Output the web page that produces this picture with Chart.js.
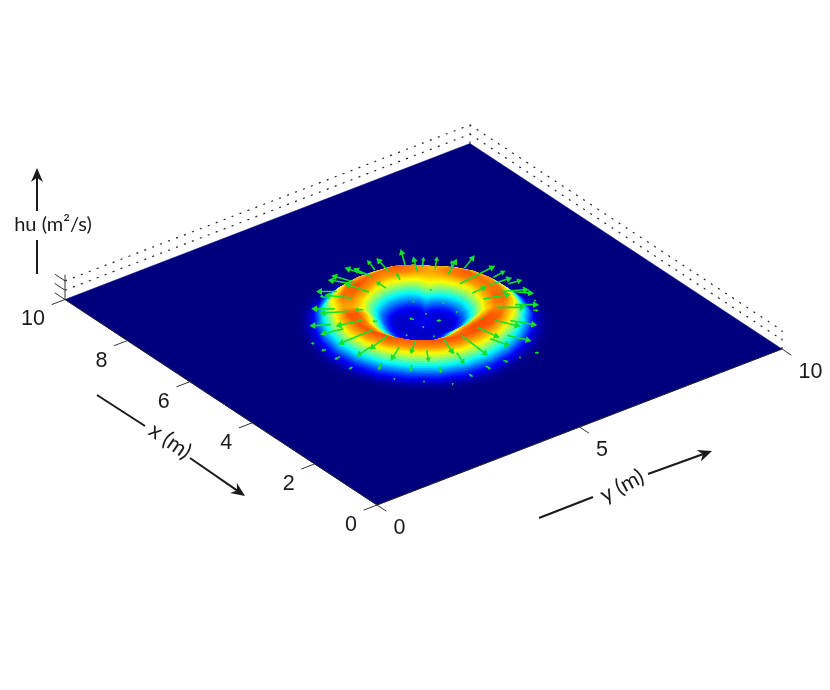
<!DOCTYPE html>
<html>
<head>
<meta charset="utf-8">
<title>hu surface</title>
<script src="https://cdn.jsdelivr.net/npm/chart.js@4"></script>
<style>
  body { margin: 0; background: #fff; }
  canvas { display: block; }
</style>
</head>
<body>
<canvas id="myChart" width="830" height="690"></canvas>
<script>
// axis ticks
const xTicks = [0, 2, 4, 6, 8, 10];
const yTicks = [0, 5, 10];
const zLevels = [0, 0.3, 0.6];

// polar grid around the plate centre, hu in m2/s
const ringAngles = [0, 15, 30, 45, 60, 75, 90, 105, 120, 135, 150, 165, 180, 195, 210, 225, 240, 255, 270, 285, 300, 315, 330, 345];
const ringRadii = [0, 0.2, 0.4, 0.6, 0.8, 1, 1.2, 1.4, 1.6, 1.8, 2, 2.2, 2.4, 2.6];
const huRows = [
  [.11, .09, .08, .15, .34, .56, .72, .77, .62, .36, .12, .02, 0, 0],
  [.11, .09, .09, .19, .38, .60, .75, .79, .62, .34, .10, .02, 0, 0],
  [.11, .09, .12, .26, .46, .64, .74, .74, .58, .32, .10, .01, 0, 0],
  [.11, .10, .20, .38, .60, .68, .71, .70, .54, .30, .09, .01, 0, 0],
  [.11, .09, .13, .27, .48, .65, .75, .75, .60, .34, .11, .02, 0, 0],
  [.11, .09, .09, .20, .40, .61, .76, .79, .66, .38, .13, .02, 0, 0],
  [.11, .09, .08, .15, .34, .55, .72, .77, .72, .48, .18, .03, 0, 0],
  [.11, .09, .08, .12, .30, .51, .70, .76, .75, .58, .28, .06, .01, 0],
  [.11, .09, .07, .10, .26, .47, .68, .78, .78, .62, .33, .08, .01, 0],
  [.11, .09, .07, .08, .22, .43, .63, .73, .74, .62, .33, .08, .01, 0],
  [.11, .09, .07, .08, .22, .46, .68, .78, .78, .64, .35, .09, .01, 0],
  [.11, .09, .07, .08, .20, .44, .70, .80, .79, .66, .38, .11, .01, 0],
  [.11, .10, .07, .08, .24, .46, .68, .79, .79, .68, .44, .16, .03, 0],
  [.11, .10, .07, .08, .14, .30, .52, .72, .80, .72, .50, .21, .04, 0],
  [.11, .10, .07, .07, .10, .22, .38, .62, .80, .74, .52, .23, .04, 0],
  [.11, .10, .07, .07, .10, .20, .32, .60, .78, .73, .50, .22, .04, 0],
  [.11, .10, .07, .07, .10, .22, .36, .62, .80, .74, .50, .22, .04, 0],
  [.11, .10, .07, .08, .12, .26, .44, .68, .80, .72, .47, .18, .03, 0],
  [.11, .10, .07, .08, .16, .34, .56, .74, .79, .68, .42, .14, .02, 0],
  [.11, .09, .07, .08, .20, .43, .68, .79, .79, .65, .37, .10, .01, 0],
  [.11, .09, .07, .08, .22, .44, .62, .70, .71, .60, .33, .08, .01, 0],
  [.11, .09, .07, .09, .24, .46, .67, .77, .77, .62, .32, .07, .01, 0],
  [.11, .09, .07, .10, .27, .50, .72, .80, .76, .58, .28, .06, .01, 0],
  [.11, .09, .08, .13, .30, .53, .72, .78, .70, .46, .18, .03, 0, 0],
];

// velocity arrows: tail position and vector, metres
const quiverX = [7.038, 6.665, 6.782, 6.582, 6.242, 6.385, 6.236, 5.809, 5.618, 5.423, 5.237, 5.378, 5.102, 4.944, 5.065, 4.653, 4.518, 4.266, 4.089, 4.272, 3.766, 3.663, 4.221, 4.29, 3.733, 4.169, 4.582, 4.584, 5.069, 4.931, 5.43, 5.805, 5.852, 6.087, 6.285, 6.513, 6.644, 7.033, 6.968, 6.63, 7.101, 7.129, 7.076, 7.256, 7.24, 7.052, 6.64, 6.551, 4.315, 3.889, 3.493, 5.38, 4.99, 4.529, 2.948, 2.983, 2.926, 4.956, 5.255, 4.94, 5.316, 4.883, 4.53, 5.637, 6.158, 5.004, 4.498, 5.701, 3.687, 3.255, 2.845, 2.807, 2.863, 4.434, 4.128, 5.993, 5.436, 5.841];
const quiverY = [6.114, 6.14, 6.345, 6.504, 6.571, 6.764, 6.961, 6.526, 7.202, 6.97, 7.279, 6.499, 6.969, 7.177, 6.529, 6.541, 6.89, 6.202, 6.436, 5.77, 5.693, 6.042, 5.327, 4.96, 4.845, 4.44, 4.469, 4.084, 4.145, 3.626, 4.093, 3.642, 4.131, 3.546, 4.135, 3.982, 4.51, 4.423, 4.126, 4.911, 4.928, 4.826, 5.32, 5.253, 5.529, 5.714, 5.684, 5.27, 3.44, 3.853, 4.248, 2.885, 2.932, 2.881, 5.392, 4.983, 4.528, 5.292, 4.962, 4.951, 5.306, 4.495, 4.898, 4.352, 4.407, 5.824, 6.067, 2.844, 3.27, 3.669, 4.061, 6.066, 5.738, 7.319, 7.043, 5.943, 5.827, 5.399];
const quiverU = [.416, .419, .212, .255, .287, .183, .21, .124, .043, -.034, -.034, .023, -.245, -.248, -.144, -.296, -.236, -.409, -.398, -.496, -.37, -.382, -.843, -.447, -.346, -.305, -.266, -.246, -.167, -.098, -.033, .087, .111, .174, .245, .246, .365, .197, .09, .468, .409, .298, .38, .33, .305, .415, .185, .244, -.145, -.141, -.15, .009, -.014, -.023, -.08, -.114, -.083, -.039, .07, -.03, -.03, -.03, -.03, .04, .08, -.03, -.03, .03, -.03, -.03, -.03, -.03, -.03, -.03, -.05, -.03, -.03, -.03];
const quiverV = [.238, .233, .188, .237, .386, .141, .36, .878, .263, .427, .236, .289, .429, .221, .466, .39, .312, .221, .27, .08, .127, .207, -.057, -.154, -.117, -.193, -.287, -.355, -.481, -.338, -.807, -.411, -.465, -.293, -.429, -.304, -.311, -.26, -.055, -.15, -.179, -.223, -.077, -.117, .086, .089, .075, -.003, -.169, -.133, -.1, -.075, -.109, -.075, .021, .002, .003, .052, -.029, -.024, -.024, -.024, -.024, -.052, -.1, -.024, -.024, -.03, -.024, -.024, -.024, .04, -.024, -.024, .05, -.024, -.024, -.024];

// view of the plate: where x=y=0 lands and what one metre / one hu does on the chart scales
const origin = [377, 505];
const perX = [-31.2, -20.55];
const perY = [40.5, -15.6];
const perHu = 31;

function px(x, y) { return origin[0] + perX[0] * x + perY[0] * y; }
function py(x, y, hu) { return origin[1] + perX[1] * x + perY[1] * y - perHu * (hu || 0); }
function pt(x, y, hu) { return { x: px(x, y), y: py(x, y, hu) }; }

// breaks a line dataset into separate segments
const gap = { x: null, y: null };

function jet(v) {
  const c = (t) => Math.round(255 * Math.max(0, Math.min(1, t)));
  return "rgb(" + c(1.5 - Math.abs(4 * v - 3)) + "," + c(1.5 - Math.abs(4 * v - 2)) + "," + c(1.5 - Math.abs(4 * v - 1)) + ")";
}

// surface vertices, one per table entry
const surfacePoints = [];
ringAngles.forEach((a, i) => {
  const t = (a * Math.PI) / 180;
  ringRadii.forEach((r, j) => {
    const p = pt(5 + r * Math.cos(t), 5 + r * Math.sin(t), huRows[i][j]);
    p.hu = huRows[i][j];
    surfacePoints.push(p);
  });
});

const plateEdge = [pt(0, 0), pt(10, 0), pt(10, 10), pt(0, 10), pt(0, 0)];
const frontEdge = [pt(10, 0), pt(0, 0), pt(0, 10)];

// dotted box behind the plate
const boxDots = [];
zLevels.slice(1).forEach((z) => {
  boxDots.push(pt(10, 0, z), pt(10, 10, z), pt(0, 10, z), gap);
});
boxDots.push(pt(10, 10, 0), pt(10, 10, zLevels[2]), gap);
boxDots.push(pt(0, 10, 0), pt(0, 10, zLevels[2]), gap);

// tick marks
const tickSegs = [];
xTicks.forEach((v) => tickSegs.push(pt(v, 0), pt(v, -0.33), gap));
yTicks.forEach((v) => tickSegs.push(pt(0, v), pt(-0.3, v), gap));
zLevels.forEach((z) => tickSegs.push(pt(10, 0, z), pt(10.33, 0, z), gap));
tickSegs.push(pt(10, 0, 0), pt(10, 0, zLevels[2] + 0.2), gap);

// green arrows
const quiverSegs = [];
const quiverHeads = [];
const quiverRot = [];
const quiverSize = [];
quiverX.forEach((x, i) => {
  const tail = pt(x, quiverY[i]);
  const head = pt(x + quiverU[i], quiverY[i] + quiverV[i]);
  quiverSegs.push(tail, head, gap);
  quiverHeads.push(head);
  const dx = head.x - tail.x;
  const dy = head.y - tail.y;
  quiverRot.push((Math.atan2(dy, dx) * 180) / Math.PI + 90);
  quiverSize.push(Math.min(4, 1 + Math.hypot(dx, dy) * 0.22));
});

const surfaceMesh = {
  id: "surfaceMesh",
  afterDatasetDraw(chart, args) {
    if (chart.data.datasets[args.index].label !== "hu") return;
    const els = args.meta.data;
    const nr = ringRadii.length;
    const na = ringAngles.length;
    const subA = 6;
    const subR = 8;
    const cells = [];
    const at = (i, j) => {
      const e = els[((i + na) % na) * nr + j];
      const hu = surfacePoints[((i + na) % na) * nr + j].hu;
      return { x: e.x, y: e.y, hu: hu, d: e.y + perHu * hu };
    };
    const mix = (p, q, r, s, u, v, k) =>
      (1 - u) * (1 - v) * p[k] + u * (1 - v) * q[k] + u * v * r[k] + (1 - u) * v * s[k];
    for (let i = 0; i < na; i++) {
      for (let j = 0; j < nr - 1; j++) {
        const p = at(i, j), q = at(i + 1, j), r = at(i + 1, j + 1), s = at(i, j + 1);
        for (let a = 0; a < subA; a++) {
          for (let b = 0; b < subR; b++) {
            const u0 = a / subA, u1 = (a + 1) / subA, v0 = b / subR, v1 = (b + 1) / subR;
            const um = (u0 + u1) / 2, vm = (v0 + v1) / 2;
            cells.push({
              d: mix(p, q, r, s, um, vm, "d"),
              hu: mix(p, q, r, s, um, vm, "hu"),
              c: [[u0, v0], [u1, v0], [u1, v1], [u0, v1]].map((w) => [
                mix(p, q, r, s, w[0], w[1], "x"),
                mix(p, q, r, s, w[0], w[1], "y"),
              ]),
            });
          }
        }
      }
    }
    // back of the plate first so the front of the ring hides the hole
    cells.sort((m, n) => m.d - n.d);
    const ctx = chart.ctx;
    ctx.save();
    ctx.lineWidth = 0.8;
    cells.forEach((cell) => {
      const col = jet(cell.hu);
      ctx.fillStyle = col;
      ctx.strokeStyle = col;
      ctx.beginPath();
      cell.c.forEach((k, n) => (n ? ctx.lineTo(k[0], k[1]) : ctx.moveTo(k[0], k[1])));
      ctx.closePath();
      ctx.fill();
      ctx.stroke();
    });
    ctx.restore();
  },
};

function blackArrow(ctx, x1, y1, x2, y2) {
  const t = Math.atan2(y2 - y1, x2 - x1);
  const L = 14;
  const W = 6;
  ctx.beginPath();
  ctx.moveTo(x1, y1);
  ctx.lineTo(x2 - L * 0.7 * Math.cos(t), y2 - L * 0.7 * Math.sin(t));
  ctx.stroke();
  ctx.beginPath();
  ctx.moveTo(x2, y2);
  ctx.lineTo(x2 - L * Math.cos(t) - W * Math.sin(t), y2 - L * Math.sin(t) + W * Math.cos(t));
  ctx.lineTo(x2 - L * 0.7 * Math.cos(t), y2 - L * 0.7 * Math.sin(t));
  ctx.lineTo(x2 - L * Math.cos(t) + W * Math.sin(t), y2 - L * Math.sin(t) - W * Math.cos(t));
  ctx.closePath();
  ctx.fill();
}

function rotatedText(ctx, s, x, y, deg) {
  ctx.save();
  ctx.translate(x, y);
  ctx.rotate((deg * Math.PI) / 180);
  ctx.fillText(s, 0, 0);
  ctx.restore();
}

const axisText = {
  id: "axisText",
  afterDraw(chart) {
    const ctx = chart.ctx;
    const sx = chart.scales.x;
    const sy = chart.scales.y;
    ctx.save();
    ctx.fillStyle = "#1a1a1a";
    ctx.textBaseline = "middle";
    ctx.font = '21.5px "Liberation Sans"';
    ctx.textAlign = "right";
    xTicks.forEach((v) => {
      ctx.fillText(String(v), sx.getPixelForValue(px(v, 0)) - 20, sy.getPixelForValue(py(v, 0)) + 20);
    });
    ctx.textAlign = "left";
    yTicks.forEach((v) => {
      ctx.fillText(String(v), sx.getPixelForValue(px(0, v)) + 16.5, sy.getPixelForValue(py(0, v)) + 23);
    });

    ctx.textAlign = "center";
    ctx.font = '20px Lato';
    ctx.fillText("hu (m²/s)", 53, 225);
    ctx.font = '22px Lato';
    rotatedText(ctx, "x (m)", 170, 441, 35);
    rotatedText(ctx, "y (m)", 622, 486, -28);

    ctx.strokeStyle = "#1a1a1a";
    ctx.fillStyle = "#1a1a1a";
    ctx.lineWidth = 2;
    blackArrow(ctx, 37, 211, 37, 168);
    ctx.beginPath();
    ctx.moveTo(37, 240);
    ctx.lineTo(37, 274);
    ctx.moveTo(97, 395);
    ctx.lineTo(145, 426);
    ctx.moveTo(539, 518);
    ctx.lineTo(593, 497);
    ctx.stroke();
    blackArrow(ctx, 190, 458, 245, 496);
    blackArrow(ctx, 648, 474, 712, 451);
    ctx.restore();
  },
};

const ctx = document.getElementById("myChart");

new Chart(ctx, {
  type: "scatter",
  data: {
    datasets: [
      {
        type: "scatter",
        label: "arrow heads",
        data: quiverHeads,
        pointStyle: "triangle",
        pointRadius: quiverSize,
        pointRotation: quiverRot,
        pointBackgroundColor: "#14e02c",
        pointBorderWidth: 0,
        order: 1,
      },
      {
        type: "line",
        label: "arrows",
        data: quiverSegs,
        borderColor: "#14e02c",
        borderWidth: 1.6,
        pointRadius: 0,
        spanGaps: false,
        order: 2,
      },
      {
        type: "line",
        label: "ticks",
        data: tickSegs,
        borderColor: "#333",
        borderWidth: 1,
        pointRadius: 0,
        spanGaps: false,
        order: 3,
      },
      {
        type: "line",
        label: "front edge",
        data: frontEdge,
        borderColor: "#222",
        borderWidth: 1,
        pointRadius: 0,
        order: 4,
      },
      {
        type: "scatter",
        label: "hu",
        data: surfacePoints,
        pointRadius: 0,
        order: 5,
      },
      {
        type: "line",
        label: "plate",
        data: plateEdge,
        fill: "shape",
        backgroundColor: "#00007f",
        borderColor: "#00007f",
        borderWidth: 0.5,
        pointRadius: 0,
        tension: 0,
        order: 6,
      },
      {
        type: "line",
        label: "box",
        data: boxDots,
        borderColor: "#222",
        borderWidth: 1.2,
        borderDash: [2, 6.5],
        pointRadius: 0,
        spanGaps: false,
        order: 7,
      },
    ],
  },
  options: {
    responsive: false,
    animation: false,
    layout: { padding: 0, autoPadding: false },
    plugins: { legend: { display: false }, tooltip: { enabled: false } },
    scales: {
      x: { type: "linear", display: false, min: 0, max: 830 },
      y: { type: "linear", display: false, min: 0, max: 690, reverse: true },
    },
  },
  plugins: [surfaceMesh, axisText],
});
</script>
</body>
</html>
